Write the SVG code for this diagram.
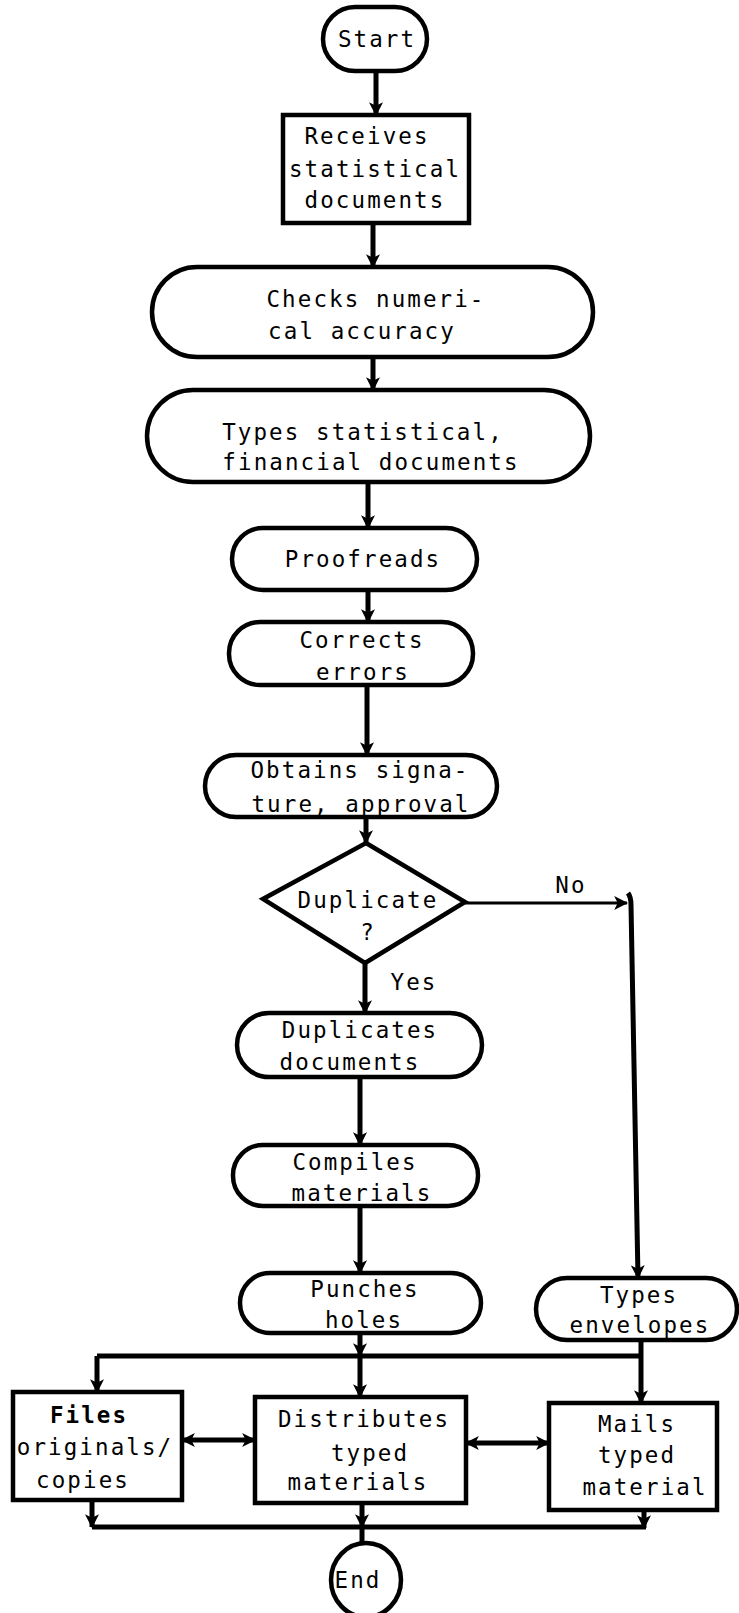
<svg xmlns="http://www.w3.org/2000/svg" width="739" height="1613" viewBox="0 0 739 1613">
  <style>
    .shape { fill: #fff; stroke: #000; stroke-width: 4.5; }
    .lbl { font-family: "DejaVu Sans Mono", "Liberation Mono", monospace; font-size: 22.5px; letter-spacing: 2.1px; fill: #000; text-anchor: middle; }
    .bold { font-weight: bold; }
    .wire { fill: none; stroke: #000; stroke-width: 5; }
    .thin { stroke-width: 3; }
    .arr { marker-end: url(#ah); }
    .both { marker-start: url(#ah); marker-end: url(#ah); }
  </style>
  <defs>
    <marker id="ah" viewBox="0 0 12 12" refX="11" refY="6" markerWidth="14" markerHeight="14" markerUnits="userSpaceOnUse" orient="auto-start-reverse">
      <path d="M0,0 L12,6 L0,12 L3,6 z" fill="#000"/>
    </marker>
  </defs>
  <rect width="739" height="1613" fill="#fff"/>

  <!-- connectors -->
  <g id="connectors">
    <path class="wire arr" d="M376,71 V115"/>
    <path class="wire arr" d="M373,223 V267"/>
    <path class="wire arr" d="M373,357 V390"/>
    <path class="wire arr" d="M368,482 V528"/>
    <path class="wire arr" d="M368,590 V622"/>
    <path class="wire arr" d="M367,685 V755"/>
    <path class="wire arr" d="M366,817 V843"/>
    <path class="wire arr" d="M365,963 V1013"/>
    <path class="wire arr" d="M360,1077 V1145"/>
    <path class="wire arr" d="M360,1206 V1273"/>
    <!-- No branch -->
    <path class="wire thin arr" d="M465,903 H627"/>
    <path class="wire arr" d="M628,893 Q631,897 631,905 L638,1278"/>
    <!-- top bus -->
    <path class="wire arr" d="M360,1333 V1356"/>
    <path class="wire arr" d="M360,1356 V1397"/>
    <path class="wire" d="M97,1356 H641"/>
    <path class="wire arr" d="M97,1356 V1392"/>
    <path class="wire arr" d="M641,1340 V1403"/>
    <!-- side links -->
    <path class="wire both" d="M182,1440 H255"/>
    <path class="wire both" d="M466,1443 H549"/>
    <!-- bottom bus -->
    <path class="wire arr" d="M92,1500 V1527"/>
    <path class="wire arr" d="M362,1503 V1527"/>
    <path class="wire" d="M362,1527 V1543"/>
    <path class="wire arr" d="M644,1510 V1528"/>
    <path class="wire" d="M92,1527 H646"/>
  </g>

  <g id="start">
    <rect class="shape" x="323" y="7" width="104" height="64" rx="32"/>
    <text class="lbl" x="377" y="47">Start</text>
  </g>

  <g id="receives">
    <rect class="shape" x="283" y="115" width="186" height="108"/>
    <text class="lbl" x="367" y="144">Receives</text>
    <text class="lbl" x="375" y="177">statistical</text>
    <text class="lbl" x="375" y="208">documents</text>
  </g>

  <g id="checks">
    <rect class="shape" x="152" y="267" width="441" height="90" rx="45"/>
    <text class="lbl" x="376" y="307">Checks numeri-</text>
    <text class="lbl" x="362" y="339">cal accuracy</text>
  </g>

  <g id="types-docs">
    <rect class="shape" x="147" y="390" width="443" height="92" rx="46"/>
    <text class="lbl" x="363" y="440">Types statistical,</text>
    <text class="lbl" x="371" y="470">financial documents</text>
  </g>

  <g id="proofreads">
    <rect class="shape" x="232" y="528" width="245" height="62" rx="31"/>
    <text class="lbl" x="363" y="567">Proofreads</text>
  </g>

  <g id="corrects">
    <rect class="shape" x="229" y="622" width="244" height="63" rx="31"/>
    <text class="lbl" x="362" y="648">Corrects</text>
    <text class="lbl" x="363" y="680">errors</text>
  </g>

  <g id="obtains">
    <rect class="shape" x="205" y="755" width="292" height="62" rx="31"/>
    <text class="lbl" x="360" y="778">Obtains signa-</text>
    <text class="lbl" x="361" y="812">ture, approval</text>
  </g>

  <g id="decision">
    <polygon class="shape" points="366,843 465,902 365,963 263,899"/>
    <text class="lbl" x="368" y="908">Duplicate</text>
    <text class="lbl" x="368" y="940">?</text>
    <text class="lbl" x="571" y="893">No</text>
    <text class="lbl" x="414" y="990">Yes</text>
  </g>

  <g id="duplicates">
    <rect class="shape" x="237" y="1013" width="245" height="64" rx="32"/>
    <text class="lbl" x="360" y="1038">Duplicates</text>
    <text class="lbl" x="350" y="1070">documents</text>
  </g>

  <g id="compiles">
    <rect class="shape" x="233" y="1145" width="245" height="61" rx="30"/>
    <text class="lbl" x="355" y="1170">Compiles</text>
    <text class="lbl" x="362" y="1201">materials</text>
  </g>

  <g id="punches">
    <rect class="shape" x="240" y="1273" width="241" height="60" rx="30"/>
    <text class="lbl" x="365" y="1297">Punches</text>
    <text class="lbl" x="364" y="1328">holes</text>
  </g>

  <g id="envelopes">
    <rect class="shape" x="536" y="1278" width="201" height="62" rx="31"/>
    <text class="lbl" x="639" y="1303">Types</text>
    <text class="lbl" x="640" y="1333">envelopes</text>
  </g>

  <g id="files">
    <rect class="shape" x="13" y="1392" width="169" height="108"/>
    <text class="lbl bold" x="89" y="1423">Files</text>
    <text class="lbl" x="95" y="1455">originals/</text>
    <text class="lbl" x="83" y="1488">copies</text>
  </g>

  <g id="distributes">
    <rect class="shape" x="255" y="1397" width="211" height="106"/>
    <text class="lbl" x="364" y="1427">Distributes</text>
    <text class="lbl" x="370" y="1461">typed</text>
    <text class="lbl" x="358" y="1490">materials</text>
  </g>

  <g id="mails">
    <rect class="shape" x="549" y="1403" width="168" height="107"/>
    <text class="lbl" x="637" y="1432">Mails</text>
    <text class="lbl" x="637" y="1463">typed</text>
    <text class="lbl" x="645" y="1495">material</text>
  </g>

  <g id="end">
    <ellipse class="shape" cx="366" cy="1580" rx="35" ry="37"/>
    <text class="lbl" x="358" y="1588">End</text>
  </g>
</svg>
